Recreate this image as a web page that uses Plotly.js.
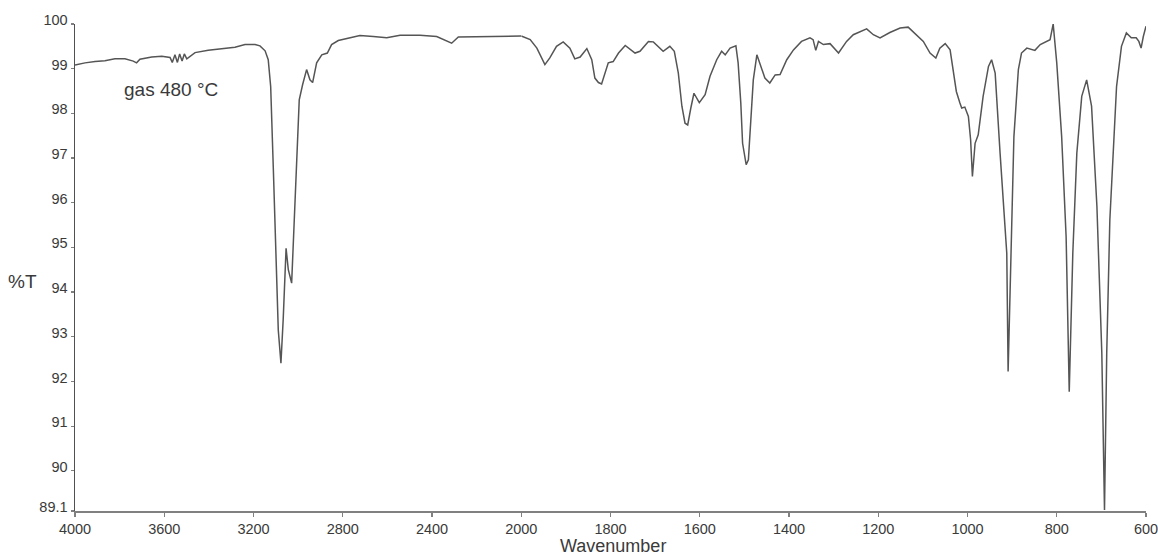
<!DOCTYPE html>
<html>
<head>
<meta charset="utf-8">
<script src="https://cdn.plot.ly/plotly-3.0.1.min.js"></script>
<style>html,body{margin:0;padding:0;background:#fff;}#chart{width:1158px;height:557px;}</style>
</head>
<body>
<div id="chart"></div>
<script>
// Wavenumber (cm-1)
const wavenumber = [
4000,3955,3910,3866,3821,3776,3739,3724,3709,3656,3611,3574,3564,3552,3541,3531,3520,3510,3499,3462,
3403,3343,3283,3238,3193,3171,3148,
3134,3123,3111,3100,3089,3077,3067,3054,3044,3029,3018,3006,2995,2980,2962,
2947,2935,2917,2894,2869,2850,2820,2768,2723,2663,2603,2543,2454,2379,2349,2312,2282,2185,2065,2000,
1980,1965,1947,1936,1921,1906,1891,1880,1868,1853,1842,1835,1827,1820,1812,1805,1794,1782,1767,1756,
1745,1734,1715,1704,1682,1667,1657,1648,1640,1633,1627,1620,1613,1601,1588,1577,1562,1551,1543,1532,
1519,1514,1508,1504,1496,1491,1485,1480,1472,1463,1454,1443,1431,1420,1405,1390,1372,1353,1346,1340,
1334,1323,1308,1289,1271,1256,1226,1211,1196,1174,1151,1133,1114,1099,1084,1071,1062,1050,1039,1032,
1025,1017,1013,1006,998,993,989,983,976,965,953,946,938,927,916,912,909,903,896,886,
879,867,849,837,815,808,800,789,779,772,764,755,744,733,722,710,699,693,688,681,
673,666,655,644,633,622,616,611,606,600
];
// Transmittance (%T)
const transmittance = [
99.08,99.13,99.16,99.18,99.22,99.22,99.17,99.13,99.21,99.26,99.28,99.25,99.14,99.31,99.14,99.33,99.17,99.33,99.22,99.36,
99.41,99.45,99.48,99.54,99.54,99.51,99.40,
99.20,98.60,96.74,94.88,93.15,92.41,93.38,94.98,94.50,94.20,95.62,97.11,98.30,98.64,98.98,
98.75,98.69,99.13,99.31,99.35,99.54,99.63,99.69,99.74,99.72,99.69,99.75,99.75,99.72,99.65,99.57,99.71,99.72,99.72,99.73,
99.65,99.46,99.09,99.24,99.50,99.60,99.46,99.22,99.26,99.45,99.20,98.79,98.69,98.66,98.90,99.13,99.16,99.35,99.52,99.44,
99.35,99.39,99.61,99.60,99.39,99.50,99.39,98.90,98.16,97.78,97.74,98.12,98.45,98.24,98.42,98.83,99.20,99.39,99.31,99.46,
99.51,99.13,98.23,97.33,96.85,96.96,97.86,98.75,99.31,99.05,98.79,98.68,98.86,98.87,99.20,99.42,99.61,99.69,99.65,99.41,
99.61,99.54,99.56,99.35,99.61,99.76,99.89,99.76,99.69,99.81,99.91,99.93,99.76,99.61,99.35,99.24,99.46,99.56,99.42,98.90,
98.49,98.23,98.12,98.14,97.93,97.41,96.59,97.33,97.52,98.38,99.05,99.20,98.90,97.11,95.62,94.87,92.22,94.87,97.48,98.98,
99.35,99.46,99.41,99.54,99.65,100.0,99.13,97.48,95.24,91.77,94.87,97.11,98.38,98.75,98.16,95.92,92.63,89.12,92.63,95.62,
97.26,98.60,99.50,99.80,99.69,99.69,99.61,99.46,99.72,99.95
];
const xTicksHigh = [4000,3600,3200,2800,2400,2000];
const xTicksLow = [1800,1600,1400,1200,1000,800,600];
const yTicks = [89.1,90,91,92,93,94,95,96,97,98,99,100];
const yTickText = ['89.1','90','91','92','93','94','95','96','97','98','99','100'];

const hiX=[],hiY=[],loX=[],loY=[];
for(let i=0;i<wavenumber.length;i++){
  if(wavenumber[i]>=2000){hiX.push(wavenumber[i]);hiY.push(transmittance[i]);}
  if(wavenumber[i]<=2000){loX.push(wavenumber[i]);loY.push(transmittance[i]);}
}
const lineStyle={color:'#555555',width:1.5};
const traces=[
  {x:hiX,y:hiY,type:'scatter',mode:'lines',line:lineStyle,xaxis:'x',yaxis:'y',hoverinfo:'x+y'},
  {x:loX,y:loY,type:'scatter',mode:'lines',line:lineStyle,xaxis:'x2',yaxis:'y',hoverinfo:'x+y'}
];
const axCommon={showgrid:false,zeroline:false,showline:true,linecolor:'#808080',linewidth:1.5,
  ticks:'outside',ticklen:4,tickcolor:'#808080',tickwidth:1.2,ticklabeloverflow:'allow',
  tickfont:{family:'Liberation Sans, Arial, sans-serif',size:14.5,color:'#3a3a3a'}};
const layout={
  width:1158,height:557,
  margin:{l:75,r:12,t:24,b:46},
  paper_bgcolor:'#ffffff',plot_bgcolor:'#ffffff',
  showlegend:false,
  font:{family:'Liberation Sans, Arial, sans-serif',color:'#3a3a3a'},
  xaxis:Object.assign({},axCommon,{domain:[0,5/12],range:[4000,2000],tickvals:xTicksHigh,ticktext:xTicksHigh.map(String),anchor:'y'}),
  xaxis2:Object.assign({},axCommon,{domain:[5/12,1],range:[2000,600],tickvals:xTicksLow,ticktext:xTicksLow.map(String),anchor:'y'}),
  yaxis:Object.assign({},axCommon,{range:[89.1,100],tickvals:yTicks,ticktext:yTickText,ticklen:3,linecolor:'#505050',ticklabelshift:-4}),
  annotations:[
    {text:'%T',xref:'paper',yref:'paper',x:-0.0486,y:0.472,xanchor:'center',yanchor:'middle',showarrow:false,font:{size:19,color:'#3a3a3a'}},
    {text:'gas 480 °C',xref:'paper',yref:'paper',x:0.0896,y:0.8665,xanchor:'center',yanchor:'middle',showarrow:false,font:{size:19,color:'#3a3a3a'}},
    {text:'Wavenumber',xref:'paper',yref:'paper',x:0.502,y:-0.071,xanchor:'center',yanchor:'middle',showarrow:false,font:{size:18,color:'#3a3a3a'}}
  ]
};
Plotly.newPlot('chart',traces,layout,{displayModeBar:false,staticPlot:true});
</script>
</body>
</html>
